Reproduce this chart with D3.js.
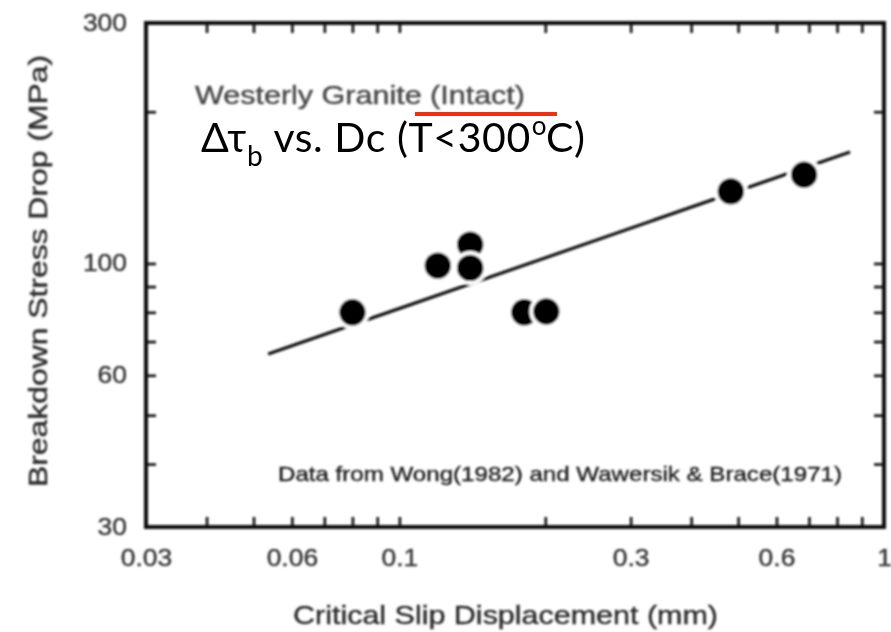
<!DOCTYPE html>
<html>
<head>
<meta charset="utf-8">
<script src="https://cdn.jsdelivr.net/npm/d3@7"></script>
<style>
  html, body { margin: 0; padding: 0; background: #fff; }
  svg { display: block; }
</style>
</head>
<body>
<svg id="chart" width="891" height="632"></svg>
<script>
// Westerly granite: breakdown stress drop vs critical slip displacement (log-log)
const dcValues    = [0.080, 0.120, 0.140, 0.140, 0.181, 0.201, 0.483, 0.684]; // mm
const stressDrop  = [80,    99,    109,   98,    80,    80.3,  139,   150];   // MPa

// fitted trend (slope 1/3 in log-log)
const fitDc     = [0.0536, 0.851];
const fitStress = [66.1, 166.4];

const xTickValues = [0.03, 0.04, 0.05, 0.06, 0.07, 0.08, 0.09, 0.1,
                     0.2, 0.3, 0.4, 0.5, 0.6, 0.7, 0.8, 0.9, 1];
const xTickLabels = ["0.03", "0.06", "0.1", "0.3", "0.6", "1"];
const yTickValues = [30, 40, 50, 60, 70, 80, 90, 100, 200, 300];
const yTickLabels = ["30", "60", "100", "300"];

const xTitle = "Critical Slip Displacement (mm)";
const yTitle = "Breakdown Stress Drop (MPa)";
const materialLabel = "Westerly Granite (Intact)";
const sourceNote = "Data from Wong(1982) and Wawersik & Brace(1971)";

const svg = d3.select("#chart");
const frame = { left: 146, right: 884, top: 23, bottom: 527 };
const figFont = "'Liberation Sans', Arial, Helvetica, sans-serif";
const widen = 1.15; // the figure's typeface runs wide

const x = d3.scaleLog().domain([0.03, 1]).range([frame.left, frame.right]);
const y = d3.scaleLog().domain([30, 300]).range([frame.bottom, frame.top]);

// soft edges of the scanned figure
const defs = svg.append("defs");
defs.append("filter").attr("id", "soft")
  .attr("x", "-5%").attr("y", "-5%").attr("width", "110%").attr("height", "110%")
  .append("feGaussianBlur").attr("stdDeviation", 0.85);

const fig = svg.append("g").attr("filter", "url(#soft)");

const fmtX = d => {
  const s = String(d);
  return xTickLabels.includes(s) ? s : "";
};
const fmtY = d => {
  const s = String(d);
  return yTickLabels.includes(s) ? s : "";
};

function styleAxis(g) {
  g.attr("font-size", null).attr("font-family", null);
  g.select(".domain").remove();
  g.selectAll(".tick line").attr("stroke", "#111").attr("stroke-width", 2.6);
  g.selectAll(".tick text")
    .attr("fill", "#333")
    .attr("stroke", "#333").attr("stroke-width", 0.35)
    .style("font-family", figFont)
    .style("font-size", "23px");
}

fig.append("g").attr("transform", `translate(0,${frame.bottom})`)
  .call(d3.axisBottom(x).tickValues(xTickValues).tickFormat(fmtX).tickSize(-10).tickPadding(23))
  .call(styleAxis);
fig.append("g").attr("transform", `translate(0,${frame.top})`)
  .call(d3.axisTop(x).tickValues(xTickValues).tickFormat(() => "").tickSize(-10))
  .call(styleAxis);
fig.append("g").attr("transform", `translate(${frame.left},0)`)
  .call(d3.axisLeft(y).tickValues(yTickValues).tickFormat(fmtY).tickSize(-10).tickPadding(19))
  .call(styleAxis);
fig.append("g").attr("transform", `translate(${frame.right},0)`)
  .call(d3.axisRight(y).tickValues(yTickValues).tickFormat(() => "").tickSize(-10))
  .call(styleAxis);

// plot frame
fig.append("rect")
  .attr("x", frame.left).attr("y", frame.top)
  .attr("width", frame.right - frame.left).attr("height", frame.bottom - frame.top)
  .attr("fill", "none").attr("stroke", "#111").attr("stroke-width", 4);

// trend line
const fitPts = fitDc.map((d, i) => [d, fitStress[i]]);
fig.append("path")
  .datum(fitPts)
  .attr("d", d3.line().x(d => x(d[0])).y(d => y(d[1])))
  .attr("stroke", "#111").attr("stroke-width", 3.2).attr("fill", "none");

// data points: white halo then solid disc, drawn in order
const pts = dcValues.map((d, i) => ({ dc: d, s: stressDrop[i] }));
const ptG = fig.append("g");
pts.forEach(p => {
  ptG.append("circle").attr("cx", x(p.dc)).attr("cy", y(p.s)).attr("r", 17).attr("fill", "#fff");
  ptG.append("circle").attr("cx", x(p.dc)).attr("cy", y(p.s)).attr("r", 13.2).attr("fill", "#050505");
});

// labels inside the plot
fig.append("text")
  .attr("x", 195).attr("y", 104)
  .attr("fill", "#474747").attr("stroke", "#474747").attr("stroke-width", 0.4)
  .style("font-family", figFont).style("font-size", "25px")
  .attr("textLength", 330).attr("lengthAdjust", "spacingAndGlyphs")
  .text(materialLabel);

fig.append("text")
  .attr("x", 278).attr("y", 481)
  .attr("fill", "#1a1a1a").attr("stroke", "#1a1a1a").attr("stroke-width", 0.35)
  .style("font-family", figFont).style("font-size", "21px")
  .attr("textLength", 564).attr("lengthAdjust", "spacingAndGlyphs")
  .text(sourceNote);

// axis titles
fig.append("text")
  .attr("x", 293).attr("y", 624)
  .attr("fill", "#2a2a2a").attr("stroke", "#2a2a2a").attr("stroke-width", 0.4)
  .style("font-family", figFont).style("font-size", "26px")
  .attr("textLength", 425).attr("lengthAdjust", "spacingAndGlyphs")
  .text(xTitle);

fig.append("text")
  .attr("transform", "translate(47,487) rotate(-90)")
  .attr("fill", "#2a2a2a").attr("stroke", "#2a2a2a").attr("stroke-width", 0.4)
  .style("font-family", figFont).style("font-size", "26px")
  .attr("textLength", 432).attr("lengthAdjust", "spacingAndGlyphs")
  .text(yTitle);

// widen tick labels to the figure's typeface
fig.selectAll(".tick text").each(function () {
  const w = this.getComputedTextLength();
  if (w > 0) {
    d3.select(this).attr("textLength", w * widen).attr("lengthAdjust", "spacingAndGlyphs");
  }
});

// overlay annotation
svg.append("line")
  .attr("x1", 415).attr("x2", 557).attr("y1", 114).attr("y2", 114)
  .attr("stroke", "#f2300f").attr("stroke-width", 4);

const ann = svg.append("text")
  .attr("x", 201).attr("y", 152)
  .attr("fill", "#000")
  .style("font-family", "Lato, 'Open Sans', sans-serif").style("font-size", "41px");
ann.append("tspan").text("\u0394\u03c4");
ann.append("tspan").attr("dy", 14).style("font-size", "28px").text("b");
ann.append("tspan").attr("dy", -14).text(" vs. Dc (T<300");
ann.append("tspan").attr("dy", -17).attr("dx", 1).style("font-size", "26px").text("o");
ann.append("tspan").attr("dy", 17).attr("dx", -1).text("C)");
ann.attr("textLength", 384).attr("lengthAdjust", "spacing");
</script>
</body>
</html>
